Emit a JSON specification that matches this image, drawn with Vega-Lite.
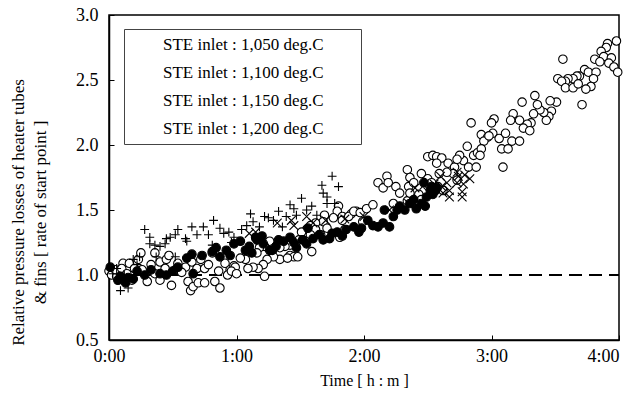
{
  "$schema": "https://vega.github.io/schema/vega-lite/v6.json",
  "width": 510,
  "height": 325,
  "autosize": {"type": "none"},
  "padding": {"left": 109, "top": 15, "right": 15, "bottom": 63},
  "background": "white",
  "config": {
    "view": {"stroke": "black", "strokeWidth": 1.5},
    "font": "Liberation Serif",
    "axis": {
      "grid": false,
      "domainColor": "black",
      "domainWidth": 1.5,
      "tickColor": "black",
      "tickWidth": 1,
      "tickSize": -5,
      "labelFont": "Liberation Serif",
      "labelFontSize": 18,
      "labelColor": "black",
      "titleFont": "Liberation Serif",
      "titleFontSize": 16,
      "titleFontWeight": "normal",
      "titleColor": "black"
    },
    "legend": {
      "orient": "none", "legendX": 15, "legendY": 14, "strokeColor": "#444", "fillColor": "white", "padding": 7,
      "symbolOpacity": 0, "symbolStrokeWidth": 0, "symbolSize": 400, "labelOffset": 15, "rowPadding": 10,
      "labelFont": "Liberation Serif", "labelFontSize": 17, "labelColor": "black", "labelLimit": 0
    }
  },
  "datasets": {
    "pts": [
      {"t":0.00,"r":1.03,"s":"STE inlet : 1,050 deg.C"},{"t":0.02,"r":1.00,"s":"STE inlet : 1,050 deg.C"},{"t":0.06,"r":0.99,"s":"STE inlet : 1,050 deg.C"},{"t":0.05,"r":1.04,"s":"STE inlet : 1,050 deg.C"},{"t":0.11,"r":1.09,"s":"STE inlet : 1,050 deg.C"},{"t":0.10,"r":1.05,"s":"STE inlet : 1,050 deg.C"},{"t":0.14,"r":1.01,"s":"STE inlet : 1,050 deg.C"},{"t":0.18,"r":0.96,"s":"STE inlet : 1,050 deg.C"},{"t":0.16,"r":1.09,"s":"STE inlet : 1,050 deg.C"},{"t":0.20,"r":1.05,"s":"STE inlet : 1,050 deg.C"},{"t":0.23,"r":1.12,"s":"STE inlet : 1,050 deg.C"},{"t":0.25,"r":1.17,"s":"STE inlet : 1,050 deg.C"},{"t":0.26,"r":1.04,"s":"STE inlet : 1,050 deg.C"},{"t":0.30,"r":0.95,"s":"STE inlet : 1,050 deg.C"},{"t":0.33,"r":1.08,"s":"STE inlet : 1,050 deg.C"},{"t":0.36,"r":1.01,"s":"STE inlet : 1,050 deg.C"},{"t":0.40,"r":0.96,"s":"STE inlet : 1,050 deg.C"},{"t":0.40,"r":1.10,"s":"STE inlet : 1,050 deg.C"},{"t":0.44,"r":1.05,"s":"STE inlet : 1,050 deg.C"},{"t":0.45,"r":1.12,"s":"STE inlet : 1,050 deg.C"},{"t":0.49,"r":0.92,"s":"STE inlet : 1,050 deg.C"},{"t":0.52,"r":1.04,"s":"STE inlet : 1,050 deg.C"},{"t":0.54,"r":1.09,"s":"STE inlet : 1,050 deg.C"},{"t":0.60,"r":1.06,"s":"STE inlet : 1,050 deg.C"},{"t":0.62,"r":0.95,"s":"STE inlet : 1,050 deg.C"},{"t":0.64,"r":0.88,"s":"STE inlet : 1,050 deg.C"},{"t":0.66,"r":0.91,"s":"STE inlet : 1,050 deg.C"},{"t":0.70,"r":0.94,"s":"STE inlet : 1,050 deg.C"},{"t":0.75,"r":0.94,"s":"STE inlet : 1,050 deg.C"},{"t":0.65,"r":1.10,"s":"STE inlet : 1,050 deg.C"},{"t":0.69,"r":1.05,"s":"STE inlet : 1,050 deg.C"},{"t":0.75,"r":1.05,"s":"STE inlet : 1,050 deg.C"},{"t":0.81,"r":1.17,"s":"STE inlet : 1,050 deg.C"},{"t":0.83,"r":0.95,"s":"STE inlet : 1,050 deg.C"},{"t":0.87,"r":0.90,"s":"STE inlet : 1,050 deg.C"},{"t":0.86,"r":1.03,"s":"STE inlet : 1,050 deg.C"},{"t":0.91,"r":1.09,"s":"STE inlet : 1,050 deg.C"},{"t":0.95,"r":1.04,"s":"STE inlet : 1,050 deg.C"},{"t":0.47,"r":1.15,"s":"STE inlet : 1,050 deg.C"},{"t":0.36,"r":1.17,"s":"STE inlet : 1,050 deg.C"},{"t":0.57,"r":1.02,"s":"STE inlet : 1,050 deg.C"},{"t":0.78,"r":1.08,"s":"STE inlet : 1,050 deg.C"},{"t":0.93,"r":1.00,"s":"STE inlet : 1,050 deg.C"},{"t":0.98,"r":1.07,"s":"STE inlet : 1,050 deg.C"},{"t":0.72,"r":1.12,"s":"STE inlet : 1,050 deg.C"},
      {"t":1.80,"r":1.53,"s":"STE inlet : 1,050 deg.C"},{"t":1.79,"r":1.49,"s":"STE inlet : 1,050 deg.C"},{"t":1.90,"r":1.47,"s":"STE inlet : 1,050 deg.C"},{"t":1.94,"r":1.49,"s":"STE inlet : 1,050 deg.C"},{"t":1.83,"r":1.45,"s":"STE inlet : 1,050 deg.C"},{"t":1.76,"r":1.44,"s":"STE inlet : 1,050 deg.C"},{"t":1.69,"r":1.46,"s":"STE inlet : 1,050 deg.C"},{"t":1.68,"r":1.41,"s":"STE inlet : 1,050 deg.C"},{"t":1.62,"r":1.40,"s":"STE inlet : 1,050 deg.C"},{"t":1.58,"r":1.38,"s":"STE inlet : 1,050 deg.C"},{"t":1.55,"r":1.35,"s":"STE inlet : 1,050 deg.C"},{"t":1.51,"r":1.33,"s":"STE inlet : 1,050 deg.C"},{"t":1.62,"r":1.35,"s":"STE inlet : 1,050 deg.C"},{"t":1.66,"r":1.31,"s":"STE inlet : 1,050 deg.C"},{"t":1.71,"r":1.36,"s":"STE inlet : 1,050 deg.C"},{"t":1.58,"r":1.31,"s":"STE inlet : 1,050 deg.C"},{"t":1.49,"r":1.27,"s":"STE inlet : 1,050 deg.C"},{"t":1.52,"r":1.27,"s":"STE inlet : 1,050 deg.C"},{"t":1.59,"r":1.18,"s":"STE inlet : 1,050 deg.C"},{"t":1.46,"r":1.23,"s":"STE inlet : 1,050 deg.C"},{"t":1.42,"r":1.23,"s":"STE inlet : 1,050 deg.C"},{"t":1.38,"r":1.22,"s":"STE inlet : 1,050 deg.C"},{"t":1.34,"r":1.21,"s":"STE inlet : 1,050 deg.C"},{"t":1.26,"r":1.26,"s":"STE inlet : 1,050 deg.C"},{"t":1.22,"r":1.22,"s":"STE inlet : 1,050 deg.C"},{"t":1.18,"r":1.21,"s":"STE inlet : 1,050 deg.C"},{"t":1.16,"r":1.17,"s":"STE inlet : 1,050 deg.C"},{"t":1.28,"r":1.18,"s":"STE inlet : 1,050 deg.C"},{"t":1.34,"r":1.12,"s":"STE inlet : 1,050 deg.C"},{"t":1.42,"r":1.15,"s":"STE inlet : 1,050 deg.C"},{"t":1.45,"r":1.14,"s":"STE inlet : 1,050 deg.C"},{"t":1.48,"r":1.14,"s":"STE inlet : 1,050 deg.C"},{"t":1.40,"r":1.13,"s":"STE inlet : 1,050 deg.C"},{"t":1.29,"r":1.14,"s":"STE inlet : 1,050 deg.C"},{"t":1.24,"r":1.12,"s":"STE inlet : 1,050 deg.C"},{"t":1.21,"r":1.08,"s":"STE inlet : 1,050 deg.C"},{"t":1.17,"r":1.05,"s":"STE inlet : 1,050 deg.C"},{"t":1.13,"r":1.06,"s":"STE inlet : 1,050 deg.C"},{"t":1.09,"r":1.05,"s":"STE inlet : 1,050 deg.C"},{"t":1.07,"r":1.12,"s":"STE inlet : 1,050 deg.C"},{"t":1.03,"r":1.13,"s":"STE inlet : 1,050 deg.C"},{"t":0.99,"r":1.06,"s":"STE inlet : 1,050 deg.C"},{"t":0.96,"r":1.03,"s":"STE inlet : 1,050 deg.C"},{"t":1.22,"r":0.99,"s":"STE inlet : 1,050 deg.C"},{"t":1.00,"r":1.01,"s":"STE inlet : 1,050 deg.C"},
      {"t":1.81,"r":1.29,"s":"STE inlet : 1,050 deg.C"},{"t":1.85,"r":1.35,"s":"STE inlet : 1,050 deg.C"},{"t":1.83,"r":1.42,"s":"STE inlet : 1,050 deg.C"},{"t":1.88,"r":1.45,"s":"STE inlet : 1,050 deg.C"},{"t":1.92,"r":1.49,"s":"STE inlet : 1,050 deg.C"},{"t":1.97,"r":1.48,"s":"STE inlet : 1,050 deg.C"},{"t":2.02,"r":1.51,"s":"STE inlet : 1,050 deg.C"},{"t":2.07,"r":1.54,"s":"STE inlet : 1,050 deg.C"},{"t":1.99,"r":1.41,"s":"STE inlet : 1,050 deg.C"},{"t":2.23,"r":1.55,"s":"STE inlet : 1,050 deg.C"},{"t":2.34,"r":1.57,"s":"STE inlet : 1,050 deg.C"},{"t":2.18,"r":1.76,"s":"STE inlet : 1,050 deg.C"},{"t":2.11,"r":1.71,"s":"STE inlet : 1,050 deg.C"},{"t":2.15,"r":1.67,"s":"STE inlet : 1,050 deg.C"},{"t":2.19,"r":1.71,"s":"STE inlet : 1,050 deg.C"},{"t":2.25,"r":1.68,"s":"STE inlet : 1,050 deg.C"},{"t":2.28,"r":1.63,"s":"STE inlet : 1,050 deg.C"},{"t":2.35,"r":1.68,"s":"STE inlet : 1,050 deg.C"},{"t":2.36,"r":1.63,"s":"STE inlet : 1,050 deg.C"},{"t":2.43,"r":1.62,"s":"STE inlet : 1,050 deg.C"},{"t":2.45,"r":1.58,"s":"STE inlet : 1,050 deg.C"},{"t":2.62,"r":1.65,"s":"STE inlet : 1,050 deg.C"},{"t":2.34,"r":1.81,"s":"STE inlet : 1,050 deg.C"},{"t":2.36,"r":1.75,"s":"STE inlet : 1,050 deg.C"},{"t":2.39,"r":1.71,"s":"STE inlet : 1,050 deg.C"},{"t":2.45,"r":1.78,"s":"STE inlet : 1,050 deg.C"},{"t":2.50,"r":1.74,"s":"STE inlet : 1,050 deg.C"},{"t":2.53,"r":1.71,"s":"STE inlet : 1,050 deg.C"},{"t":2.58,"r":1.68,"s":"STE inlet : 1,050 deg.C"},{"t":2.50,"r":1.91,"s":"STE inlet : 1,050 deg.C"},{"t":2.54,"r":1.92,"s":"STE inlet : 1,050 deg.C"},{"t":2.57,"r":1.91,"s":"STE inlet : 1,050 deg.C"},{"t":2.61,"r":1.90,"s":"STE inlet : 1,050 deg.C"},{"t":2.57,"r":1.86,"s":"STE inlet : 1,050 deg.C"},{"t":2.66,"r":1.86,"s":"STE inlet : 1,050 deg.C"},{"t":2.78,"r":1.88,"s":"STE inlet : 1,050 deg.C"},{"t":2.82,"r":1.83,"s":"STE inlet : 1,050 deg.C"},{"t":2.88,"r":1.83,"s":"STE inlet : 1,050 deg.C"},{"t":2.71,"r":1.83,"s":"STE inlet : 1,050 deg.C"},{"t":2.70,"r":1.78,"s":"STE inlet : 1,050 deg.C"},{"t":2.65,"r":1.79,"s":"STE inlet : 1,050 deg.C"},{"t":2.59,"r":1.78,"s":"STE inlet : 1,050 deg.C"},{"t":2.73,"r":1.73,"s":"STE inlet : 1,050 deg.C"},{"t":2.75,"r":1.92,"s":"STE inlet : 1,050 deg.C"},{"t":2.73,"r":1.89,"s":"STE inlet : 1,050 deg.C"},{"t":2.81,"r":1.99,"s":"STE inlet : 1,050 deg.C"},{"t":2.86,"r":1.92,"s":"STE inlet : 1,050 deg.C"},{"t":2.89,"r":1.94,"s":"STE inlet : 1,050 deg.C"},{"t":2.84,"r":2.17,"s":"STE inlet : 1,050 deg.C"},{"t":2.92,"r":2.08,"s":"STE inlet : 1,050 deg.C"},{"t":2.97,"r":2.06,"s":"STE inlet : 1,050 deg.C"},{"t":3.01,"r":2.09,"s":"STE inlet : 1,050 deg.C"},{"t":3.06,"r":2.05,"s":"STE inlet : 1,050 deg.C"},{"t":2.94,"r":2.03,"s":"STE inlet : 1,050 deg.C"},{"t":3.02,"r":2.20,"s":"STE inlet : 1,050 deg.C"},{"t":3.00,"r":2.17,"s":"STE inlet : 1,050 deg.C"},{"t":3.09,"r":1.83,"s":"STE inlet : 1,050 deg.C"},
      {"t":3.98,"r":2.80,"s":"STE inlet : 1,050 deg.C"},{"t":3.91,"r":2.78,"s":"STE inlet : 1,050 deg.C"},{"t":3.90,"r":2.75,"s":"STE inlet : 1,050 deg.C"},{"t":3.86,"r":2.72,"s":"STE inlet : 1,050 deg.C"},{"t":3.88,"r":2.68,"s":"STE inlet : 1,050 deg.C"},{"t":3.81,"r":2.66,"s":"STE inlet : 1,050 deg.C"},{"t":3.85,"r":2.64,"s":"STE inlet : 1,050 deg.C"},{"t":3.94,"r":2.67,"s":"STE inlet : 1,050 deg.C"},{"t":3.92,"r":2.63,"s":"STE inlet : 1,050 deg.C"},{"t":3.96,"r":2.60,"s":"STE inlet : 1,050 deg.C"},{"t":3.99,"r":2.56,"s":"STE inlet : 1,050 deg.C"},{"t":3.56,"r":2.66,"s":"STE inlet : 1,050 deg.C"},{"t":3.73,"r":2.58,"s":"STE inlet : 1,050 deg.C"},{"t":3.76,"r":2.56,"s":"STE inlet : 1,050 deg.C"},{"t":3.82,"r":2.56,"s":"STE inlet : 1,050 deg.C"},{"t":3.80,"r":2.51,"s":"STE inlet : 1,050 deg.C"},{"t":3.78,"r":2.45,"s":"STE inlet : 1,050 deg.C"},{"t":3.74,"r":2.43,"s":"STE inlet : 1,050 deg.C"},{"t":3.69,"r":2.53,"s":"STE inlet : 1,050 deg.C"},{"t":3.67,"r":2.53,"s":"STE inlet : 1,050 deg.C"},{"t":3.64,"r":2.51,"s":"STE inlet : 1,050 deg.C"},{"t":3.60,"r":2.51,"s":"STE inlet : 1,050 deg.C"},{"t":3.58,"r":2.49,"s":"STE inlet : 1,050 deg.C"},{"t":3.52,"r":2.51,"s":"STE inlet : 1,050 deg.C"},{"t":3.55,"r":2.49,"s":"STE inlet : 1,050 deg.C"},{"t":3.58,"r":2.44,"s":"STE inlet : 1,050 deg.C"},{"t":3.64,"r":2.44,"s":"STE inlet : 1,050 deg.C"},{"t":3.68,"r":2.47,"s":"STE inlet : 1,050 deg.C"},{"t":3.71,"r":2.31,"s":"STE inlet : 1,050 deg.C"},{"t":3.51,"r":2.33,"s":"STE inlet : 1,050 deg.C"},{"t":3.46,"r":2.34,"s":"STE inlet : 1,050 deg.C"},{"t":3.47,"r":2.26,"s":"STE inlet : 1,050 deg.C"},{"t":3.45,"r":2.22,"s":"STE inlet : 1,050 deg.C"},{"t":3.43,"r":2.19,"s":"STE inlet : 1,050 deg.C"},{"t":3.41,"r":2.25,"s":"STE inlet : 1,050 deg.C"},{"t":3.38,"r":2.27,"s":"STE inlet : 1,050 deg.C"},{"t":3.36,"r":2.31,"s":"STE inlet : 1,050 deg.C"},{"t":3.34,"r":2.38,"s":"STE inlet : 1,050 deg.C"},{"t":3.33,"r":2.24,"s":"STE inlet : 1,050 deg.C"},{"t":3.31,"r":2.17,"s":"STE inlet : 1,050 deg.C"},{"t":3.28,"r":2.16,"s":"STE inlet : 1,050 deg.C"},{"t":3.25,"r":2.13,"s":"STE inlet : 1,050 deg.C"},{"t":3.30,"r":2.11,"s":"STE inlet : 1,050 deg.C"},{"t":3.24,"r":2.33,"s":"STE inlet : 1,050 deg.C"},{"t":3.22,"r":2.19,"s":"STE inlet : 1,050 deg.C"},{"t":3.17,"r":2.24,"s":"STE inlet : 1,050 deg.C"},{"t":3.15,"r":2.19,"s":"STE inlet : 1,050 deg.C"},{"t":3.11,"r":2.09,"s":"STE inlet : 1,050 deg.C"},{"t":2.98,"r":2.07,"s":"STE inlet : 1,050 deg.C"},{"t":3.16,"r":2.03,"s":"STE inlet : 1,050 deg.C"},{"t":3.22,"r":2.03,"s":"STE inlet : 1,050 deg.C"},{"t":3.08,"r":1.97,"s":"STE inlet : 1,050 deg.C"},{"t":3.13,"r":1.97,"s":"STE inlet : 1,050 deg.C"},{"t":2.92,"r":1.97,"s":"STE inlet : 1,050 deg.C"},{"t":2.91,"r":1.92,"s":"STE inlet : 1,050 deg.C"},
      {"t":0.01,"r":1.06,"s":"STE inlet : 1,100 deg.C"},{"t":0.07,"r":0.96,"s":"STE inlet : 1,100 deg.C"},{"t":0.13,"r":0.94,"s":"STE inlet : 1,100 deg.C"},{"t":0.15,"r":0.98,"s":"STE inlet : 1,100 deg.C"},{"t":0.09,"r":0.99,"s":"STE inlet : 1,100 deg.C"},{"t":0.19,"r":0.97,"s":"STE inlet : 1,100 deg.C"},{"t":0.22,"r":1.03,"s":"STE inlet : 1,100 deg.C"},{"t":0.28,"r":1.00,"s":"STE inlet : 1,100 deg.C"},{"t":0.33,"r":1.04,"s":"STE inlet : 1,100 deg.C"},{"t":0.40,"r":1.01,"s":"STE inlet : 1,100 deg.C"},{"t":0.45,"r":1.00,"s":"STE inlet : 1,100 deg.C"},{"t":0.50,"r":1.03,"s":"STE inlet : 1,100 deg.C"},{"t":0.54,"r":1.06,"s":"STE inlet : 1,100 deg.C"},{"t":0.61,"r":1.13,"s":"STE inlet : 1,100 deg.C"},{"t":0.65,"r":1.16,"s":"STE inlet : 1,100 deg.C"},{"t":0.66,"r":1.01,"s":"STE inlet : 1,100 deg.C"},{"t":0.73,"r":1.15,"s":"STE inlet : 1,100 deg.C"},{"t":0.81,"r":1.18,"s":"STE inlet : 1,100 deg.C"},{"t":0.84,"r":1.21,"s":"STE inlet : 1,100 deg.C"},{"t":0.87,"r":1.14,"s":"STE inlet : 1,100 deg.C"},{"t":0.92,"r":1.19,"s":"STE inlet : 1,100 deg.C"},{"t":0.95,"r":1.15,"s":"STE inlet : 1,100 deg.C"},{"t":0.98,"r":1.24,"s":"STE inlet : 1,100 deg.C"},{"t":1.03,"r":1.26,"s":"STE inlet : 1,100 deg.C"},{"t":1.07,"r":1.19,"s":"STE inlet : 1,100 deg.C"},{"t":1.10,"r":1.22,"s":"STE inlet : 1,100 deg.C"},{"t":1.12,"r":1.17,"s":"STE inlet : 1,100 deg.C"},{"t":1.15,"r":1.29,"s":"STE inlet : 1,100 deg.C"},{"t":1.16,"r":1.27,"s":"STE inlet : 1,100 deg.C"},{"t":1.20,"r":1.30,"s":"STE inlet : 1,100 deg.C"},{"t":1.21,"r":1.24,"s":"STE inlet : 1,100 deg.C"},{"t":1.26,"r":1.19,"s":"STE inlet : 1,100 deg.C"},{"t":1.28,"r":1.19,"s":"STE inlet : 1,100 deg.C"},{"t":1.31,"r":1.22,"s":"STE inlet : 1,100 deg.C"},{"t":1.33,"r":1.27,"s":"STE inlet : 1,100 deg.C"},{"t":1.37,"r":1.26,"s":"STE inlet : 1,100 deg.C"},{"t":1.42,"r":1.29,"s":"STE inlet : 1,100 deg.C"},{"t":1.45,"r":1.25,"s":"STE inlet : 1,100 deg.C"},{"t":1.47,"r":1.21,"s":"STE inlet : 1,100 deg.C"},{"t":1.52,"r":1.27,"s":"STE inlet : 1,100 deg.C"},{"t":1.55,"r":1.24,"s":"STE inlet : 1,100 deg.C"},{"t":1.56,"r":1.36,"s":"STE inlet : 1,100 deg.C"},{"t":1.60,"r":1.28,"s":"STE inlet : 1,100 deg.C"},{"t":1.65,"r":1.31,"s":"STE inlet : 1,100 deg.C"},{"t":1.68,"r":1.27,"s":"STE inlet : 1,100 deg.C"},{"t":1.73,"r":1.28,"s":"STE inlet : 1,100 deg.C"},{"t":1.75,"r":1.32,"s":"STE inlet : 1,100 deg.C"},{"t":1.79,"r":1.33,"s":"STE inlet : 1,100 deg.C"},{"t":1.83,"r":1.30,"s":"STE inlet : 1,100 deg.C"},{"t":1.86,"r":1.35,"s":"STE inlet : 1,100 deg.C"},{"t":1.92,"r":1.37,"s":"STE inlet : 1,100 deg.C"},{"t":1.96,"r":1.33,"s":"STE inlet : 1,100 deg.C"},{"t":1.98,"r":1.36,"s":"STE inlet : 1,100 deg.C"},{"t":2.03,"r":1.42,"s":"STE inlet : 1,100 deg.C"},{"t":2.07,"r":1.38,"s":"STE inlet : 1,100 deg.C"},{"t":2.11,"r":1.37,"s":"STE inlet : 1,100 deg.C"},{"t":2.15,"r":1.40,"s":"STE inlet : 1,100 deg.C"},{"t":2.16,"r":1.50,"s":"STE inlet : 1,100 deg.C"},{"t":2.20,"r":1.37,"s":"STE inlet : 1,100 deg.C"},{"t":2.23,"r":1.45,"s":"STE inlet : 1,100 deg.C"},{"t":2.26,"r":1.50,"s":"STE inlet : 1,100 deg.C"},{"t":2.28,"r":1.53,"s":"STE inlet : 1,100 deg.C"},{"t":2.32,"r":1.50,"s":"STE inlet : 1,100 deg.C"},{"t":2.36,"r":1.55,"s":"STE inlet : 1,100 deg.C"},{"t":2.39,"r":1.58,"s":"STE inlet : 1,100 deg.C"},{"t":2.41,"r":1.51,"s":"STE inlet : 1,100 deg.C"},{"t":2.45,"r":1.55,"s":"STE inlet : 1,100 deg.C"},{"t":2.48,"r":1.53,"s":"STE inlet : 1,100 deg.C"},{"t":2.49,"r":1.60,"s":"STE inlet : 1,100 deg.C"},{"t":2.52,"r":1.65,"s":"STE inlet : 1,100 deg.C"},{"t":2.54,"r":1.62,"s":"STE inlet : 1,100 deg.C"},{"t":2.57,"r":1.67,"s":"STE inlet : 1,100 deg.C"},{"t":2.47,"r":1.71,"s":"STE inlet : 1,100 deg.C"},{"t":2.53,"r":1.68,"s":"STE inlet : 1,100 deg.C"},{"t":2.56,"r":1.65,"s":"STE inlet : 1,100 deg.C"},
      {"t":2.62,"r":1.63,"s":"STE inlet : 1,150 deg.C"},{"t":2.67,"r":1.65,"s":"STE inlet : 1,150 deg.C"},{"t":2.73,"r":1.71,"s":"STE inlet : 1,150 deg.C"},{"t":2.77,"r":1.64,"s":"STE inlet : 1,150 deg.C"},{"t":2.83,"r":1.74,"s":"STE inlet : 1,150 deg.C"},{"t":2.79,"r":1.77,"s":"STE inlet : 1,150 deg.C"},{"t":2.74,"r":1.76,"s":"STE inlet : 1,150 deg.C"},{"t":2.61,"r":1.68,"s":"STE inlet : 1,150 deg.C"},{"t":2.67,"r":1.60,"s":"STE inlet : 1,150 deg.C"},{"t":2.77,"r":1.60,"s":"STE inlet : 1,150 deg.C"},{"t":2.78,"r":1.70,"s":"STE inlet : 1,150 deg.C"},{"t":2.65,"r":1.71,"s":"STE inlet : 1,150 deg.C"},{"t":2.60,"r":1.76,"s":"STE inlet : 1,150 deg.C"},{"t":2.73,"r":1.79,"s":"STE inlet : 1,150 deg.C"},{"t":1.10,"r":1.32,"s":"STE inlet : 1,150 deg.C"},{"t":1.15,"r":1.33,"s":"STE inlet : 1,150 deg.C"},{"t":1.32,"r":1.40,"s":"STE inlet : 1,150 deg.C"},{"t":1.43,"r":1.42,"s":"STE inlet : 1,150 deg.C"},{"t":1.45,"r":1.38,"s":"STE inlet : 1,150 deg.C"},{"t":1.55,"r":1.45,"s":"STE inlet : 1,150 deg.C"},{"t":1.60,"r":1.40,"s":"STE inlet : 1,150 deg.C"},{"t":1.70,"r":1.42,"s":"STE inlet : 1,150 deg.C"},{"t":1.85,"r":1.43,"s":"STE inlet : 1,150 deg.C"},{"t":2.00,"r":1.45,"s":"STE inlet : 1,150 deg.C"},{"t":2.20,"r":1.50,"s":"STE inlet : 1,150 deg.C"},{"t":2.35,"r":1.55,"s":"STE inlet : 1,150 deg.C"},{"t":2.40,"r":1.67,"s":"STE inlet : 1,150 deg.C"},{"t":2.47,"r":1.69,"s":"STE inlet : 1,150 deg.C"},{"t":2.50,"r":1.64,"s":"STE inlet : 1,150 deg.C"},{"t":2.55,"r":1.70,"s":"STE inlet : 1,150 deg.C"},
      {"t":0.03,"r":1.01,"s":"STE inlet : 1,200 deg.C"},{"t":0.06,"r":1.05,"s":"STE inlet : 1,200 deg.C"},{"t":0.09,"r":0.88,"s":"STE inlet : 1,200 deg.C"},{"t":0.12,"r":1.00,"s":"STE inlet : 1,200 deg.C"},{"t":0.15,"r":0.90,"s":"STE inlet : 1,200 deg.C"},{"t":0.19,"r":1.12,"s":"STE inlet : 1,200 deg.C"},{"t":0.22,"r":1.08,"s":"STE inlet : 1,200 deg.C"},{"t":0.24,"r":1.14,"s":"STE inlet : 1,200 deg.C"},{"t":0.28,"r":1.35,"s":"STE inlet : 1,200 deg.C"},{"t":0.32,"r":1.29,"s":"STE inlet : 1,200 deg.C"},{"t":0.32,"r":1.24,"s":"STE inlet : 1,200 deg.C"},{"t":0.36,"r":1.23,"s":"STE inlet : 1,200 deg.C"},{"t":0.37,"r":1.14,"s":"STE inlet : 1,200 deg.C"},{"t":0.40,"r":1.22,"s":"STE inlet : 1,200 deg.C"},{"t":0.44,"r":1.24,"s":"STE inlet : 1,200 deg.C"},{"t":0.45,"r":1.28,"s":"STE inlet : 1,200 deg.C"},{"t":0.48,"r":1.29,"s":"STE inlet : 1,200 deg.C"},{"t":0.52,"r":1.31,"s":"STE inlet : 1,200 deg.C"},{"t":0.52,"r":1.14,"s":"STE inlet : 1,200 deg.C"},{"t":0.54,"r":1.35,"s":"STE inlet : 1,200 deg.C"},{"t":0.60,"r":1.28,"s":"STE inlet : 1,200 deg.C"},{"t":0.61,"r":1.26,"s":"STE inlet : 1,200 deg.C"},{"t":0.65,"r":1.37,"s":"STE inlet : 1,200 deg.C"},{"t":0.69,"r":1.31,"s":"STE inlet : 1,200 deg.C"},{"t":0.74,"r":1.37,"s":"STE inlet : 1,200 deg.C"},{"t":0.78,"r":1.31,"s":"STE inlet : 1,200 deg.C"},{"t":0.81,"r":1.23,"s":"STE inlet : 1,200 deg.C"},{"t":0.82,"r":1.42,"s":"STE inlet : 1,200 deg.C"},{"t":0.87,"r":1.36,"s":"STE inlet : 1,200 deg.C"},{"t":0.90,"r":1.32,"s":"STE inlet : 1,200 deg.C"},{"t":0.94,"r":1.33,"s":"STE inlet : 1,200 deg.C"},{"t":0.96,"r":1.25,"s":"STE inlet : 1,200 deg.C"},{"t":0.98,"r":1.29,"s":"STE inlet : 1,200 deg.C"},{"t":1.04,"r":1.35,"s":"STE inlet : 1,200 deg.C"},{"t":1.08,"r":1.38,"s":"STE inlet : 1,200 deg.C"},{"t":1.11,"r":1.47,"s":"STE inlet : 1,200 deg.C"},{"t":1.13,"r":1.41,"s":"STE inlet : 1,200 deg.C"},{"t":1.15,"r":1.27,"s":"STE inlet : 1,200 deg.C"},{"t":1.18,"r":1.37,"s":"STE inlet : 1,200 deg.C"},{"t":1.22,"r":1.45,"s":"STE inlet : 1,200 deg.C"},{"t":1.25,"r":1.44,"s":"STE inlet : 1,200 deg.C"},{"t":1.29,"r":1.42,"s":"STE inlet : 1,200 deg.C"},{"t":1.33,"r":1.49,"s":"STE inlet : 1,200 deg.C"},{"t":1.36,"r":1.37,"s":"STE inlet : 1,200 deg.C"},{"t":1.39,"r":1.45,"s":"STE inlet : 1,200 deg.C"},{"t":1.42,"r":1.54,"s":"STE inlet : 1,200 deg.C"},{"t":1.45,"r":1.51,"s":"STE inlet : 1,200 deg.C"},{"t":1.47,"r":1.46,"s":"STE inlet : 1,200 deg.C"},{"t":1.51,"r":1.59,"s":"STE inlet : 1,200 deg.C"},{"t":1.55,"r":1.50,"s":"STE inlet : 1,200 deg.C"},{"t":1.59,"r":1.53,"s":"STE inlet : 1,200 deg.C"},{"t":1.63,"r":1.46,"s":"STE inlet : 1,200 deg.C"},{"t":1.67,"r":1.69,"s":"STE inlet : 1,200 deg.C"},{"t":1.68,"r":1.63,"s":"STE inlet : 1,200 deg.C"},{"t":1.71,"r":1.60,"s":"STE inlet : 1,200 deg.C"},{"t":1.71,"r":1.55,"s":"STE inlet : 1,200 deg.C"},{"t":1.75,"r":1.76,"s":"STE inlet : 1,200 deg.C"},{"t":1.77,"r":1.55,"s":"STE inlet : 1,200 deg.C"},{"t":1.80,"r":1.68,"s":"STE inlet : 1,200 deg.C"}
    ]
  },
  "layer": [
    {
      "data": {"values": [{"t0": 0, "t1": 4, "v": 1}]},
      "mark": {"type": "rule", "color": "black", "strokeWidth": 2, "strokeDash": [13, 7]},
      "encoding": {
        "x": {"field": "t0", "type": "quantitative"},
        "x2": {"field": "t1"},
        "y": {"field": "v", "type": "quantitative"}
      }
    },
    {
      "data": {"name": "pts"},
      "mark": {"type": "point", "filled": true, "strokeWidth": 1.1, "opacity": 1},
      "encoding": {
        "x": {
          "field": "t", "type": "quantitative",
          "scale": {"domain": [0, 4], "nice": false, "zero": false},
          "axis": {"title": "Time [ h : m ]", "values": [0, 1, 2, 3, 4], "labelExpr": "datum.value + ':00'", "labelAlign": {"expr": "datum.value == 4 ? 'right' : 'center'"}, "labelPadding": 12, "titlePadding": 7}
        },
        "y": {
          "field": "r", "type": "quantitative",
          "scale": {"domain": [0.5, 3.0], "nice": false, "zero": false},
          "axis": {"title": ["Relative pressure losses of heater tubes", "& fins [ rate of start point ]"], "values": [0.5, 1.0, 1.5, 2.0, 2.5, 3.0], "format": ".1f", "labelPadding": 16, "titleFontSize": 17, "titleLineHeight": 22, "titleX": -91, "titleY": 197, "titleAlign": "center", "titleBaseline": "middle", "titleAngle": -90}
        },
        "shape": {
          "field": "s", "type": "nominal", "title": null,
          "scale": {"domain": ["STE inlet : 1,050 deg.C", "STE inlet : 1,100 deg.C", "STE inlet : 1,150 deg.C", "STE inlet : 1,200 deg.C"],
                    "range": ["circle", "circle", "M-1,-1L1,1M-1,1L1,-1", "M-1,0L1,0M0,-1L0,1"]},
          "legend": {"labelExpr": "datum.label + '\u00a0\u00a0\u00a0\u00a0\u00a0\u00a0\u00a0\u200b'"}
        },
        "fill": {
          "field": "s", "type": "nominal", "title": null,
          "scale": {"domain": ["STE inlet : 1,050 deg.C", "STE inlet : 1,100 deg.C", "STE inlet : 1,150 deg.C", "STE inlet : 1,200 deg.C"],
                    "range": ["white", "black", "transparent", "transparent"]},
          "legend": {"labelExpr": "datum.label + '\u00a0\u00a0\u00a0\u00a0\u00a0\u00a0\u00a0\u200b'"}
        },
        "size": {
          "field": "s", "type": "nominal", "title": null,
          "scale": {"domain": ["STE inlet : 1,050 deg.C", "STE inlet : 1,100 deg.C", "STE inlet : 1,150 deg.C", "STE inlet : 1,200 deg.C"],
                    "range": [72, 78, 130, 200]},
          "legend": {"labelExpr": "datum.label + '\u00a0\u00a0\u00a0\u00a0\u00a0\u00a0\u00a0\u200b'"}
        },
        "stroke": {"value": "black"}
      }
    }
  ]
}
